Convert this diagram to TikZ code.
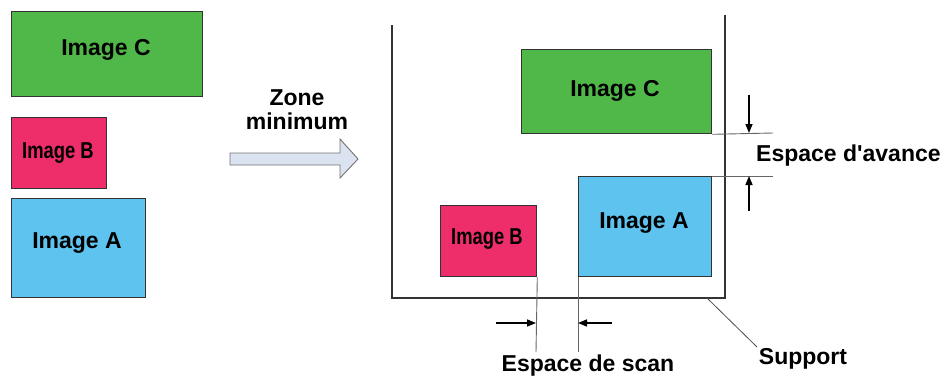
\documentclass[tikz,border=0pt]{standalone}
\usepackage{fontspec}
\setmainfont{Liberation Sans}
\usetikzlibrary{arrows.meta}
\definecolor{cgreen}{HTML}{50B848}
\definecolor{cpink}{HTML}{EE2D6B}
\definecolor{cblue}{HTML}{5EC3EE}
\definecolor{cedge}{HTML}{333333}
\definecolor{clav}{HTML}{DCE3F0}
\begin{document}
\begin{tikzpicture}[x=1pt,y=-1pt,
  img/.style={draw=cedge,line width=1.3pt,anchor=north west,inner sep=0pt},
  lbl/.style={inner sep=0pt,font=\fontsize{23}{26}\selectfont\bfseries},
  supp/.style={draw=cedge,line width=1.3pt},
  thin/.style={draw=black!60,line width=0.9pt},
  arr/.style={line width=1.5pt,-{Triangle[length=9pt,width=7pt]}}]
\useasboundingbox (0,0) rectangle (948,376);
% left column
\node[img,fill=cgreen,minimum width=191pt,minimum height=85pt] (lc) at (11,11) {};
\node[img,fill=cpink,minimum width=95pt,minimum height=71pt] (lb) at (11,117) {};
\node[img,fill=cblue,minimum width=134pt,minimum height=99pt] (la) at (11,198) {};
\node[lbl] (lct) at (106,50) {Image C};
\node[lbl] (lbt) at (58,153) {\scalebox{0.8}[1]{Image B}};
\node[lbl] (lat) at (77,243) {Image A};
% big arrow
\node[lbl,align=center] (zone) at (297,110) {Zone\\[-2pt]minimum};
\draw[draw=black!55,fill=clav,line width=0.9pt] (230,153) -- (340,153) -- (340,139) -- (358,159) -- (340,178) -- (340,165) -- (230,165) -- cycle;
% support
\coordinate (stl) at (392,25);
\coordinate (sbl) at (392,298);
\coordinate (sbr) at (725,298);
\coordinate (str) at (725,15);
\draw[supp] (stl) -- (sbl) -- (sbr) -- (str);
% right images
\node[img,fill=cgreen,minimum width=190pt,minimum height=84pt] (rc) at (521,49) {};
\node[img,fill=cblue,minimum width=133pt,minimum height=100pt] (ra) at (578,176) {};
\node[img,fill=cpink,minimum width=96pt,minimum height=71pt] (rb) at (440,205) {};
\node[lbl] (rct) at (615,91) {Image C};
\node[lbl] (rat) at (644,223) {Image A};
\node[lbl] (rbt) at (487,239) {\scalebox{0.8}[1]{Image B}};
% espace d'avance
\coordinate (c1) at (773,133);
\coordinate (a1) at (773,176);
\draw[thin] (rc.south east) -- (c1);
\draw[thin] (ra.north east) -- (a1);
\coordinate (d0) at (749,95);
\coordinate (d1) at (749,133);
\coordinate (u0) at (749,211);
\coordinate (u1) at (749,176);
\draw[arr] (d0) -- (d1);
\draw[arr] (u0) -- (u1);
\node[lbl,anchor=west] (eav) at (756,156) {Espace d\textquotesingle avance};
% espace de scan
\coordinate (v1) at (536,352);
\coordinate (v2) at (578,352);
\draw[thin] (rb.south east) -- (v1);
\draw[thin] (ra.south west) -- (v2);
\coordinate (l0) at (496,323);
\coordinate (l1) at (536,323);
\coordinate (r0) at (612,323);
\coordinate (r1) at (578,323);
\draw[arr] (l0) -- (l1);
\draw[arr] (r0) -- (r1);
\node[lbl] (esc) at (588,366) {Espace de scan};
% support label
\node[lbl] (sup) at (803,359) {Support};
\coordinate (sp0) at (707,298);
\draw[black!70,line width=0.8pt] (sp0) -- (757,347);
\end{tikzpicture}
\end{document}
